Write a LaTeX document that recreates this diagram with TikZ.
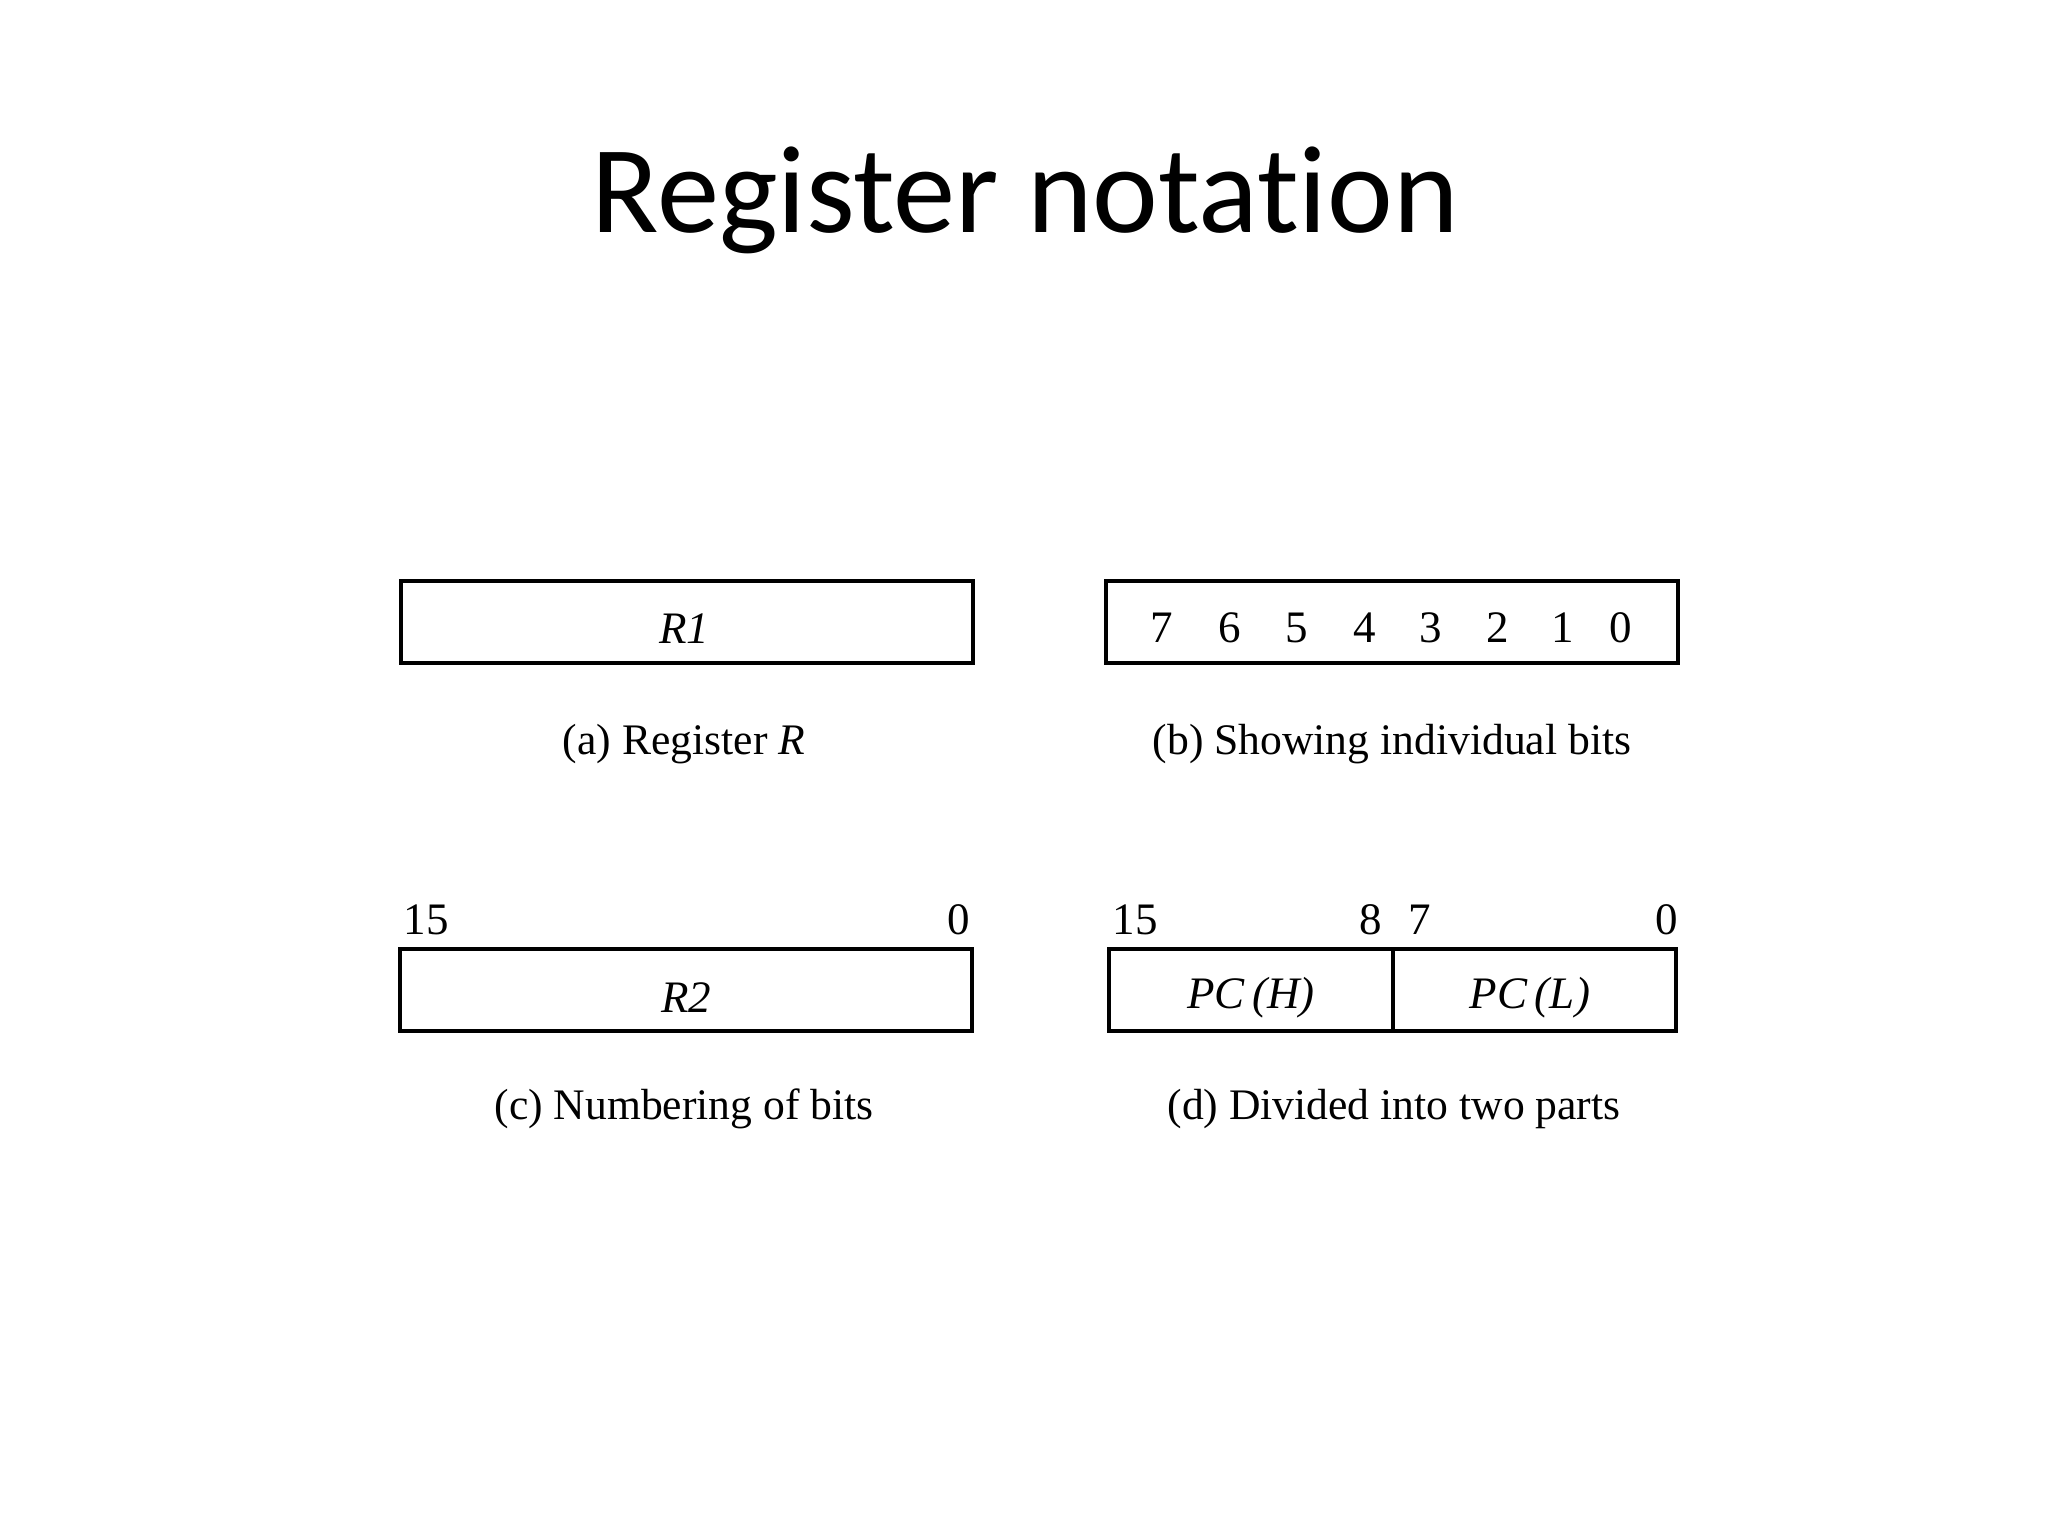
\documentclass[tikz,border=0pt]{standalone}
\usepackage{fontspec}
\setmainfont{Liberation Serif}
\newfontfamily\titlefont[Ligatures=NoCommon]{Carlito}
\begin{document}
\begin{tikzpicture}[x=0.01cm,y=-0.01cm,
  reg/.style={draw=black, line width=1.1pt, inner sep=0pt, minimum height=0.82cm},
  lbl/.style={inner sep=0pt, font=\fontsize{12.8}{15}\selectfont\itshape},
  captxt/.style={inner sep=0pt, font=\fontsize{12.4}{15}\selectfont},
  bit/.style={inner sep=0pt, font=\fontsize{12.8}{15}\selectfont}]
\useasboundingbox[fill=white] (0,0) rectangle (2048,1536);
\node[font=\fontsize{35.4}{40}\selectfont\titlefont, inner sep=0pt, anchor=base] (title) at (1025,232) {Register notation};
% (a)
\node[reg, minimum width=5.72cm] (ra) at (687,622) {};
\node[lbl] (ta) at (684,629) {R1};
\node[captxt] (capa) at (684,744) {(a) Register \textit{R}};
% (b)
\node[reg, minimum width=5.71cm] (rb) at (1392,622) {};
\foreach \x/\t in {1162/7,1230/6,1297/5,1365/4,1431/3,1498/2,1563/1,1621/0}
  \node[bit] (b\t) at (\x,628) {\t};
\node[captxt] (capb) at (1392,744) {(b) Showing individual bits};
% (c)
\node[reg, minimum width=5.71cm] (rc) at (686,990) {};
\node[lbl] (tc) at (686,998) {R2};
\node[bit, anchor=base] (c15) at (426,934) {15};
\node[bit, anchor=base] (c0) at (959,934) {0};
\node[captxt] (capc) at (684,1109) {(c) Numbering of bits};
% (d)
\node[reg, minimum width=2.84cm] (dh) at (1251,990) {};
\node[reg, minimum width=2.83cm] (dl) at (1534.5,990) {};
\node[lbl] (th) at (1251,998) {PC\,(H)};
\node[lbl] (tl) at (1530,998) {PC\,(L)};
\node[bit, anchor=base] (d15) at (1135,934) {15};
\node[bit, anchor=base] (d8) at (1371,934) {8};
\node[bit, anchor=base] (d7) at (1420,934) {7};
\node[bit, anchor=base] (d0) at (1667,934) {0};
\node[captxt] (capd) at (1394,1109) {(d) Divided into two parts};
\end{tikzpicture}
\end{document}
